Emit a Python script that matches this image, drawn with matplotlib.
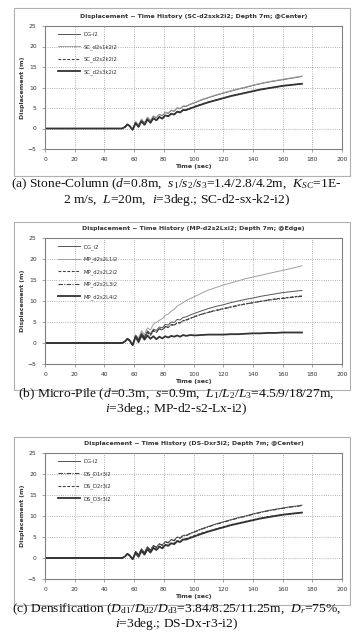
import matplotlib
matplotlib.use('Agg')
import matplotlib.pyplot as plt
from matplotlib.patches import Rectangle

plt.rcParams['font.family'] = ['DejaVu Sans']
plt.rcParams['mathtext.fontset'] = 'custom'
plt.rcParams['mathtext.rm'] = 'Liberation Serif'
plt.rcParams['mathtext.it'] = 'Liberation Serif:italic'

# common time grid (sec)
t = [0, 52, 54, 55.5, 57, 59, 61, 63, 65, 67, 69, 71, 73, 75, 77, 79, 81, 83, 85, 87,
     89, 91, 93, 95, 98, 101, 105, 110, 115, 120, 125, 130, 135, 140, 145, 150, 155,
     160, 165, 170, 173]

# (a) Stone-Column
a_dg = [0, 0, 0.4, 1.0, 0.6, -0.3, 1.6, 0.8, 2.2, 1.3, 2.7, 1.9, 3.0, 2.6, 3.4, 3.1, 3.9,
        3.7, 4.4, 4.2, 5.0, 4.8, 5.4, 5.4, 5.9, 6.3, 6.9, 7.5, 8.1, 8.6, 9.1, 9.6, 10.0,
        10.5, 10.9, 11.3, 11.6, 11.9, 12.2, 12.5, 12.7]
a_s1 = [0, 0, 0.4, 1.0, 0.6, -0.3, 1.7, 0.9, 2.3, 1.4, 2.8, 2.0, 3.1, 2.7, 3.5, 3.2, 4.0,
        3.8, 4.5, 4.3, 5.1, 4.9, 5.5, 5.5, 6.0, 6.4, 7.0, 7.6, 8.2, 8.7, 9.2, 9.7, 10.1,
        10.6, 11.0, 11.4, 11.7, 12.0, 12.3, 12.6, 12.8]
a_s2 = [0, 0, 0.4, 1.0, 0.6, -0.3, 1.3, 0.4, 1.8, 0.9, 2.2, 1.4, 2.5, 2.0, 2.8, 2.5, 3.2,
        3.0, 3.6, 3.5, 4.1, 4.0, 4.5, 4.6, 5.0, 5.4, 5.9, 6.4, 6.9, 7.4, 7.9, 8.3, 8.7,
        9.1, 9.5, 9.8, 10.1, 10.4, 10.6, 10.8, 11.0]
a_s3 = [0, 0, 0.4, 1.0, 0.6, -0.3, 1.3, 0.4, 1.8, 0.9, 2.2, 1.4, 2.5, 2.0, 2.8, 2.4, 3.2,
        3.0, 3.6, 3.4, 4.1, 3.9, 4.5, 4.5, 4.9, 5.3, 5.8, 6.4, 6.9, 7.4, 7.9, 8.3, 8.7,
        9.1, 9.5, 9.8, 10.1, 10.4, 10.6, 10.8, 10.9]

# (b) Micro-Pile
b_dg = [0, 0, 0.4, 1.0, 0.6, -0.5, 1.8, 0.9, 2.4, 1.5, 2.9, 2.2, 3.3, 3.0, 3.8, 3.6, 4.4,
        4.3, 5.0, 4.9, 5.6, 5.5, 6.1, 6.2, 6.7, 7.1, 7.6, 8.2, 8.7, 9.1, 9.6, 10.0, 10.4,
        10.7, 11.1, 11.4, 11.7, 12.0, 12.2, 12.4, 12.5]
b_l1 = [0, 0, 0.4, 1.0, 0.6, -0.5, 2.0, 1.2, 2.9, 2.0, 3.6, 3.1, 4.5, 4.9, 5.4, 5.8, 6.6,
        6.9, 7.6, 8.0, 8.8, 9.2, 9.6, 10.1, 10.6, 11.1, 11.8, 12.6, 13.2, 13.8, 14.3,
        14.8, 15.3, 15.7, 16.1, 16.5, 16.9, 17.3, 17.7, 18.1, 18.4]
b_l2 = [0, 0, 0.4, 1.0, 0.6, -0.5, 1.6, 0.6, 2.1, 1.2, 2.5, 1.8, 2.9, 2.5, 3.3, 3.1, 3.8,
        3.7, 4.3, 4.2, 4.8, 4.8, 5.3, 5.4, 5.9, 6.3, 6.8, 7.3, 7.8, 8.2, 8.6, 9.0, 9.3,
        9.6, 9.9, 10.2, 10.5, 10.7, 10.9, 11.1, 11.2]
b_l3 = [0, 0, 0.4, 1.0, 0.6, -0.5, 1.7, 0.7, 2.2, 1.3, 2.6, 1.9, 3.0, 2.6, 3.4, 3.2, 3.9,
        3.8, 4.4, 4.3, 4.9, 4.8, 5.3, 5.5, 5.9, 6.3, 6.8, 7.3, 7.7, 8.1, 8.5, 8.9, 9.3,
        9.6, 9.9, 10.2, 10.4, 10.6, 10.8, 11.0, 11.1]
b_l4 = [0, 0, 0.4, 1.0, 0.6, -0.5, 1.5, 0.2, 1.8, 0.8, 1.8, 1.0, 1.6, 0.9, 1.5, 1.1, 1.6,
        1.3, 1.7, 1.5, 1.8, 1.5, 1.9, 1.7, 1.9, 1.8, 1.9, 2.0, 2.0, 2.0, 2.1, 2.1, 2.2,
        2.3, 2.3, 2.4, 2.4, 2.5, 2.5, 2.5, 2.5]

# (c) Densification
c_dg = [0, 0, 0.4, 1.0, 0.6, -0.3, 1.6, 0.8, 2.2, 1.3, 2.7, 1.9, 3.0, 2.6, 3.4, 3.1, 3.9,
        3.7, 4.4, 4.2, 5.0, 4.8, 5.4, 5.4, 5.9, 6.3, 6.9, 7.5, 8.1, 8.6, 9.1, 9.6, 10.0,
        10.5, 10.9, 11.3, 11.6, 11.9, 12.2, 12.4, 12.6]
c_d1 = [0, 0, 0.4, 1.0, 0.6, -0.3, 1.5, 0.7, 2.1, 1.2, 2.6, 1.8, 2.9, 2.5, 3.3, 3.0, 3.8,
        3.6, 4.3, 4.1, 4.9, 4.7, 5.3, 5.3, 5.8, 6.2, 6.8, 7.4, 8.0, 8.5, 9.0, 9.5, 9.9,
        10.4, 10.8, 11.2, 11.5, 11.8, 12.1, 12.3, 12.5]
c_d2 = [0, 0, 0.4, 1.0, 0.6, -0.3, 1.3, 0.4, 1.8, 0.9, 2.2, 1.4, 2.5, 2.0, 2.8, 2.5, 3.2,
        3.0, 3.6, 3.5, 4.1, 4.0, 4.5, 4.6, 5.0, 5.4, 5.9, 6.4, 6.9, 7.4, 7.9, 8.3, 8.7,
        9.1, 9.5, 9.8, 10.1, 10.3, 10.5, 10.7, 10.9]
c_d3 = [0, 0, 0.4, 1.0, 0.6, -0.3, 1.2, 0.3, 1.7, 0.8, 2.1, 1.3, 2.4, 1.9, 2.7, 2.3, 3.1,
        2.9, 3.5, 3.3, 4.0, 3.8, 4.4, 4.4, 4.8, 5.2, 5.7, 6.3, 6.8, 7.3, 7.8, 8.2, 8.6,
        9.0, 9.4, 9.7, 10.0, 10.3, 10.5, 10.7, 10.8]

x_ticks = [0, 20, 40, 60, 80, 100, 120, 140, 160, 180, 200]
y_ticks = [-5, 0, 5, 10, 15, 20, 25]

W, H = 352, 637
fig = plt.figure(figsize=(W / 100, H / 100), dpi=100)

styles = {
    'dg': dict(color='#555555', lw=0.7, ls='-'),
    'light': dict(color='#a0a0a0', lw=0.7, ls='-'),
    'dash': dict(color='#404040', lw=0.8, ls=(0, (2.5, 1.5))),
    'dashdot': dict(color='#404040', lw=0.8, ls=(0, (4, 1.2, 1, 1.2))),
    'thick': dict(color='#333333', lw=1.3, ls='-'),
}

panels = [
    dict(box=(8, 176), ax=(26, 149),
         title='Displacement ~ Time History (SC-d2sxk2i2; Depth 7m; @Center)',
         series=[('DG-i2', a_dg, 'dg'), ('SC_d2s1k2i2', a_s1, 'light'),
                 ('SC_d2s2k2i2', a_s2, 'dash'), ('SC_d2s3k2i2', a_s3, 'thick')],
         caption=[r'(a) Stone-Column ($d$=0.8m,  $s_1$/$s_2$/$s_3$=1.4/2.8/4.2m,  $K_{SC}$=1E-',
                  r'2 m/s,  $L$=20m,  $i$=3deg.; SC-d2-sx-k2-i2)'],
         cap_y=(184.5, 199.5)),
    dict(box=(222, 390), ax=(238, 364),
         title='Displacement ~ Time History (MP-d2s2Lxi2; Depth 7m; @Edge)',
         series=[('DG_i2', b_dg, 'dg'), ('MP_d2s2L1i2', b_l1, 'light'),
                 ('MP_d2s2L2i2', b_l2, 'dash'), ('MP_d2s2L3i2', b_l3, 'dashdot'),
                 ('MP_d2s2L4i2', b_l4, 'thick')],
         caption=[r'(b) Micro-Pile ($d$=0.3m,  $s$=0.9m,  $L_1$/$L_2$/$L_3$=4.5/9/18/27m,',
                  r'$i$=3deg.; MP-d2-s2-Lx-i2)'],
         cap_y=(394.5, 409)),
    dict(box=(437, 605), ax=(453, 579),
         title='Displacement ~ Time History (DS-Dxr3i2; Depth 7m; @Center)',
         series=[('DG-i2', c_dg, 'dg'), ('DS_D1r3i2', c_d1, 'dashdot'),
                 ('DS_D2r3i2', c_d2, 'dash'), ('DS_D3r3i2', c_d3, 'thick')],
         caption=[r'(c) Densification ($D_{\rm d1}$/$D_{\rm d2}$/$D_{\rm d3}$=3.84/8.25/11.25m,  $D_r$=75%,',
                  r'$i$=3deg.; DS-Dx-r3-i2)'],
         cap_y=(609.5, 624.5)),
]

for p in panels:
    b0, b1 = p['box']
    fig.add_artist(Rectangle((14 / W, 1 - b1 / H), (350 - 14) / W, (b1 - b0) / H,
                             transform=fig.transFigure, fill=False, ec='#b0b0b0', lw=0.8))
    a0, a1 = p['ax']
    ax = fig.add_axes([45 / W, 1 - a1 / H, (342 - 45) / W, (a1 - a0) / H])
    for label, y, st in p['series']:
        ax.plot(t, y, label=label, **styles[st])
    ax.set_xlim(0, 200)
    ax.set_ylim(-5, 25)
    ax.set_xticks(x_ticks)
    ax.set_yticks(y_ticks)
    ax.grid(True, ls=':', color='#9a9a9a', lw=0.6)
    for s in ax.spines.values():
        s.set_color('#808080')
        s.set_linewidth(0.8)
    ax.tick_params(length=2, width=0.5, color='#808080', labelsize=4.3,
                   labelcolor='#333333', pad=4)
    ax.set_xlabel('Time (sec)', fontsize=4.5, fontweight='bold', color='#333333', labelpad=1.5)
    ax.set_ylabel('Displacement (m)', fontsize=4.5, fontweight='bold', color='#333333', labelpad=2)
    ax.set_title(p['title'], fontsize=4.5, fontweight='bold', color='#333333', pad=6)
    ax.legend(loc='upper left', bbox_to_anchor=(0.028, 0.985), frameon=False, fontsize=3.8,
              handlelength=4.2, labelspacing=1.3, borderaxespad=0.4, handletextpad=0.7,
              labelcolor='#333333')
    for txt, yy in zip(p['caption'], p['cap_y']):
        fig.text(176 / W, 1 - yy / H, txt, ha='center', va='center', fontsize=9.7,
                 family='Liberation Serif', color='#111111')

fig.savefig('out.png', dpi=100)
